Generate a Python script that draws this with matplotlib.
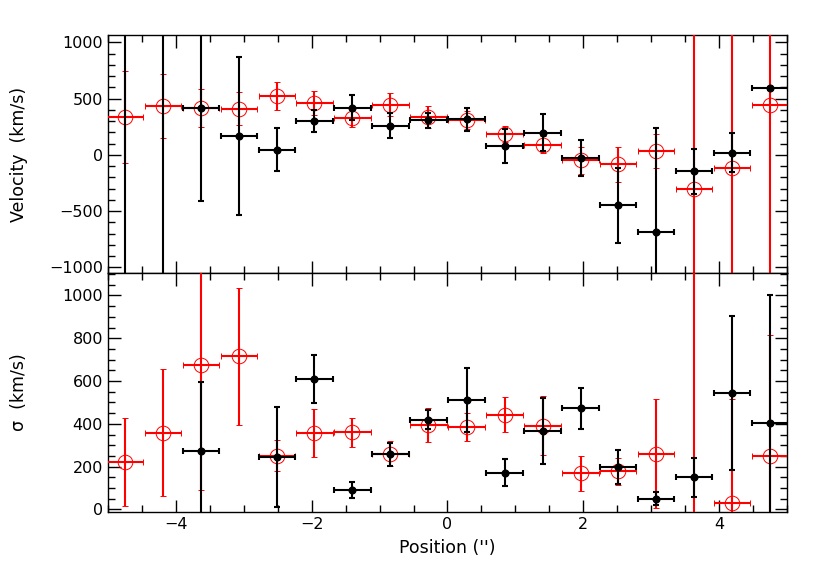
import numpy as np
import matplotlib
matplotlib.use("Agg")
import matplotlib.pyplot as plt
from matplotlib.ticker import MultipleLocator

plt.rcParams['font.family'] = ['DejaVu Sans']

# Bin centres (arcsec) and half widths
position = [-4.75, -4.19, -3.63, -3.07, -2.51, -1.96, -1.40, -0.84, -0.28,
            0.28, 0.84, 1.40, 1.96, 2.51, 3.07, 3.63, 4.19, 4.75]
pos_err = [0.27] * 18

# Velocity, black (filled) series
vel_black = [-1300, -1300, 420, 167, 44, 300, 420, 260, 305,
             315, 75, 195, -30, -450, -690, -145, 20, 590]
vel_black_err = [3000, 3000, 830, 700, 190, 95, 110, 115, 70,
                 100, 150, 165, 160, 330, 930, 200, 170, 10]

# Velocity, red (open) series
vel_red = [335, 435, 415, 410, 520, 460, 325, 445, 335,
           310, 185, 90, -50, -85, 35, -300, -115, 440]
vel_red_err = [410, 285, 170, 145, 125, 105, 80, 100, 95,
               80, 75, 78, 120, 155, 150, 4000, 4000, 4000]

# Dispersion, black series
sig_black = [np.nan, np.nan, 274, np.nan, 246, 611, 90, 257, 420,
             512, 172, 366, 472, 200, 50, 150, 546, 404]
sig_black_err = [0, 0, 321, 0, 234, 113, 39, 55, 45,
                 150, 64, 155, 97, 80, 30, 90, 360, 596]

# Dispersion, red series
sig_red = [223, 358, 674, 715, 251, 357, 361, 261, 395,
           385, 443, 392, 168, 178, 261, 1600, 30, 249]
sig_red_err = [205, 296, 585, 320, 73, 113, 67, 57, 78,
               66, 81, 138, 83, 64, 254, 3000, 484, 566]

RED = '#ff0000'

fig = plt.figure(figsize=(8.30, 5.81), dpi=100)
ax1 = fig.add_axes([0.1301, 0.5301, 0.8181, 0.4088])
ax2 = fig.add_axes([0.1301, 0.1188, 0.8181, 0.4113])


def draw(ax, y_red, e_red, y_black, e_black):
    ax.errorbar(position, y_red, yerr=e_red, xerr=pos_err, fmt='o', ms=10.5,
                mfc='none', mec=RED, mew=0.7, ecolor=RED, elinewidth=1.5,
                capsize=2.5, capthick=1.5, zorder=3)
    ax.errorbar(position, y_black, yerr=e_black, xerr=pos_err, fmt='o', ms=4.8,
                mfc='black', mec='black', ecolor='black', elinewidth=1.5,
                capsize=2.5, capthick=1.5, zorder=4)


draw(ax1, vel_red, vel_red_err, vel_black, vel_black_err)
draw(ax2, sig_red, sig_red_err, sig_black, sig_black_err)

for ax in (ax1, ax2):
    ax.set_xlim(-5, 5)
    ax.xaxis.set_major_locator(MultipleLocator(2))
    ax.xaxis.set_minor_locator(MultipleLocator(0.5))
    ax.tick_params(which='both', direction='in', top=True, right=True,
                   labelsize=11.5, width=1.0)
    ax.tick_params(which='major', length=9)
    ax.tick_params(which='minor', length=5)
    for s in ax.spines.values():
        s.set_linewidth(1.0)

ax1.set_ylim(-1050, 1060)
ax1.yaxis.set_major_locator(MultipleLocator(500))
ax1.yaxis.set_minor_locator(MultipleLocator(100))
ax1.tick_params(labelbottom=False)
ax1.set_ylabel('Velocity  (km/s)', fontsize=12.5)

ax2.set_ylim(-12, 1105)
ax2.yaxis.set_major_locator(MultipleLocator(200))
ax2.yaxis.set_minor_locator(MultipleLocator(50))
ax2.set_ylabel('σ  (km/s)', fontsize=12.5)
ax2.set_xlabel('Position (\'\')', fontsize=12.5, labelpad=5)

ax1.yaxis.set_label_coords(-0.118, 0.5)
ax2.yaxis.set_label_coords(-0.118, 0.5)

fig.savefig('out.png', dpi=100)
